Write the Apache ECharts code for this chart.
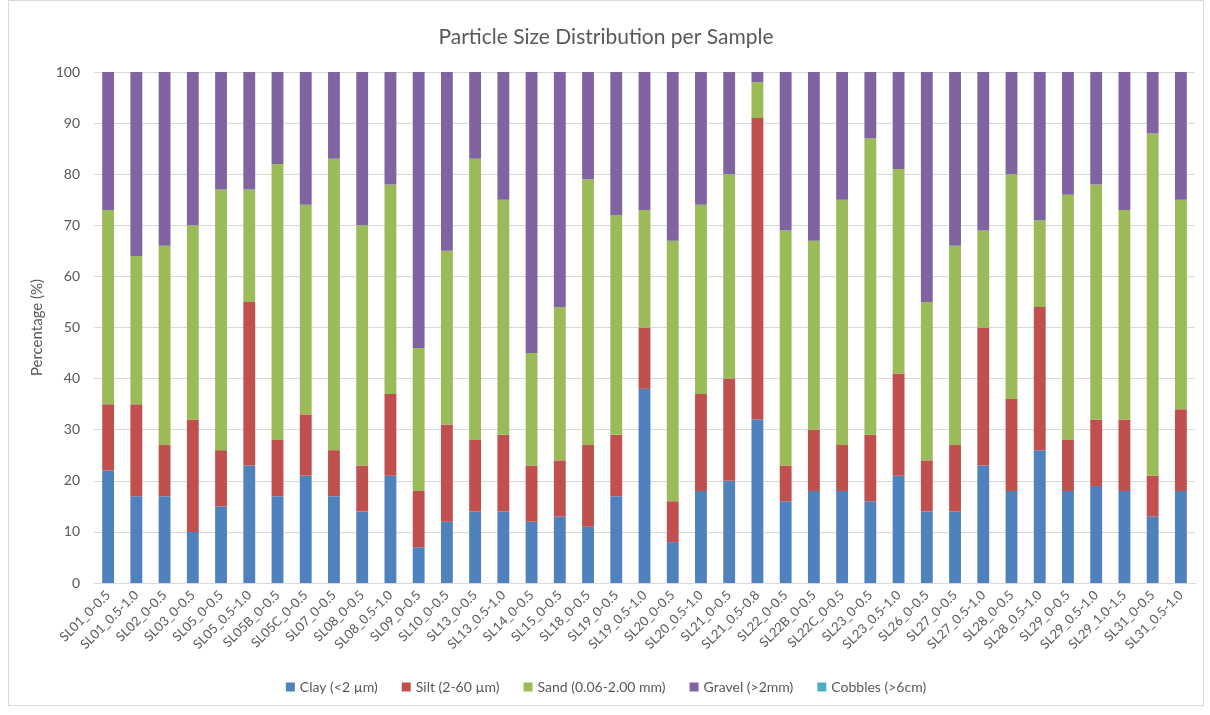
<!DOCTYPE html>
<html>
<head>
<meta charset="utf-8">
<script src="https://cdn.jsdelivr.net/npm/echarts@6/dist/echarts.min.js"></script>
<style>
  html, body { margin: 0; padding: 0; background: #fff; }
  #chart { position: absolute; left: 8px; top: 0; width: 1196px; height: 706px; border: 1px solid #d9d9d9; box-sizing: border-box; }
</style>
</head>
<body>
<div id="chart"></div>
<script>
const samples = ['SL01_0-0.5', 'SL01_0.5-1.0', 'SL02_0-0.5', 'SL03_0-0.5', 'SL05_0-0.5', 'SL05_0.5-1.0',
  'SL05B_0-0.5', 'SL05C_0-0.5', 'SL07_0-0.5', 'SL08_0-0.5', 'SL08_0.5-1.0', 'SL09_0-0.5', 'SL10_0-0.5',
  'SL13_0-0.5', 'SL13_0.5-1.0', 'SL14_0-0.5', 'SL15_0-0.5', 'SL18_0-0.5', 'SL19_0-0.5', 'SL19_0.5-1.0',
  'SL20_0-0.5', 'SL20_0.5-1.0', 'SL21_0-0.5', 'SL21_0.5-0.8', 'SL22_0-0.5', 'SL22B_0-0.5', 'SL22C_0-0.5',
  'SL23_0-0.5', 'SL23_0.5-1.0', 'SL26_0-0.5', 'SL27_0-0.5', 'SL27_0.5-1.0', 'SL28_0-0.5', 'SL28_0.5-1.0',
  'SL29_0-0.5', 'SL29_0.5-1.0', 'SL29_1.0-1.5', 'SL31_0-0.5', 'SL31_0.5-1.0']

const clay = [22, 17, 17, 10, 15, 23, 17, 21, 17, 14, 21, 7, 12, 14, 14, 12, 13, 11, 17, 38,
  8, 18, 20, 32, 16, 18, 18, 16, 21, 14, 14, 23, 18, 26, 18, 19, 18, 13, 18]
const silt = [13, 18, 10, 22, 11, 32, 11, 12, 9, 9, 16, 11, 19, 14, 15, 11, 11, 16, 12, 12,
  8, 19, 20, 59, 7, 12, 9, 13, 20, 10, 13, 27, 18, 28, 10, 13, 14, 8, 16]
const sand = [38, 29, 39, 38, 51, 22, 54, 41, 57, 47, 41, 28, 34, 55, 46, 22, 30, 52, 43, 23,
  51, 37, 40, 7, 46, 37, 48, 58, 40, 31, 39, 19, 44, 17, 48, 46, 41, 67, 41]
const gravel = [27, 36, 34, 30, 23, 23, 18, 26, 17, 30, 22, 54, 35, 17, 25, 55, 46, 21, 28, 27,
  33, 26, 20, 2, 31, 33, 25, 13, 19, 45, 34, 31, 20, 29, 24, 22, 27, 12, 25]
const cobbles = samples.map(() => 0)

const yTicks = [0, 10, 20, 30, 40, 50, 60, 70, 80, 90, 100]

const seriesDefs = [
  { name: 'Clay (<2 µm)', data: clay, color: '#4f81bd' },
  { name: 'Silt (2-60 µm)', data: silt, color: '#c0504d' },
  { name: 'Sand (0.06-2.00 mm)', data: sand, color: '#9bbb59' },
  { name: 'Gravel (>2mm)', data: gravel, color: '#8064a2' },
  { name: 'Cobbles (>6cm)', data: cobbles, color: '#4bacc6' }
]

const font = 'Lato, "Open Sans", sans-serif'
const chart = echarts.init(document.getElementById('chart'))
const option = {
  textStyle: { fontFamily: font },
  title: {
    text: 'Particle Size Distribution per Sample',
    left: 'center',
    top: 21,
    textStyle: { color: '#595959', fontSize: 21, fontWeight: 'normal', fontFamily: font }
  },
  legend: {
    bottom: 6,
    left: 'center',
    icon: 'rect',
    itemWidth: 9,
    itemHeight: 9,
    itemGap: 24,
    textStyle: { color: '#595959', fontSize: 14, fontFamily: font },
    data: seriesDefs.map(s => s.name)
  },
  grid: { left: 85, right: 8, top: 71, bottom: 122 },
  xAxis: {
    type: 'category',
    data: samples,
    axisLine: { lineStyle: { color: '#d9d9d9' } },
    axisTick: { show: false },
    axisLabel: { rotate: 45, interval: 0, color: '#595959', fontSize: 13, margin: 10, fontFamily: font }
  },
  yAxis: {
    type: 'value',
    min: yTicks[0],
    max: yTicks[yTicks.length - 1],
    interval: 10,
    name: 'Percentage (%)',
    nameLocation: 'middle',
    nameGap: 48,
    nameTextStyle: { color: '#595959', fontSize: 15, fontFamily: font },
    axisLine: { show: false },
    axisTick: { show: false },
    axisLabel: { color: '#595959', fontSize: 14, margin: 14, fontFamily: font },
    splitLine: { lineStyle: { color: '#d9d9d9' } }
  },
  series: seriesDefs.map(s => ({
    name: s.name,
    type: 'bar',
    stack: 'total',
    barWidth: '42%',
    data: s.data,
    itemStyle: { color: s.color }
  }))
}
chart.setOption(option)
window.addEventListener('resize', () => {
  chart.resize()
})
</script>
</body>
</html>
